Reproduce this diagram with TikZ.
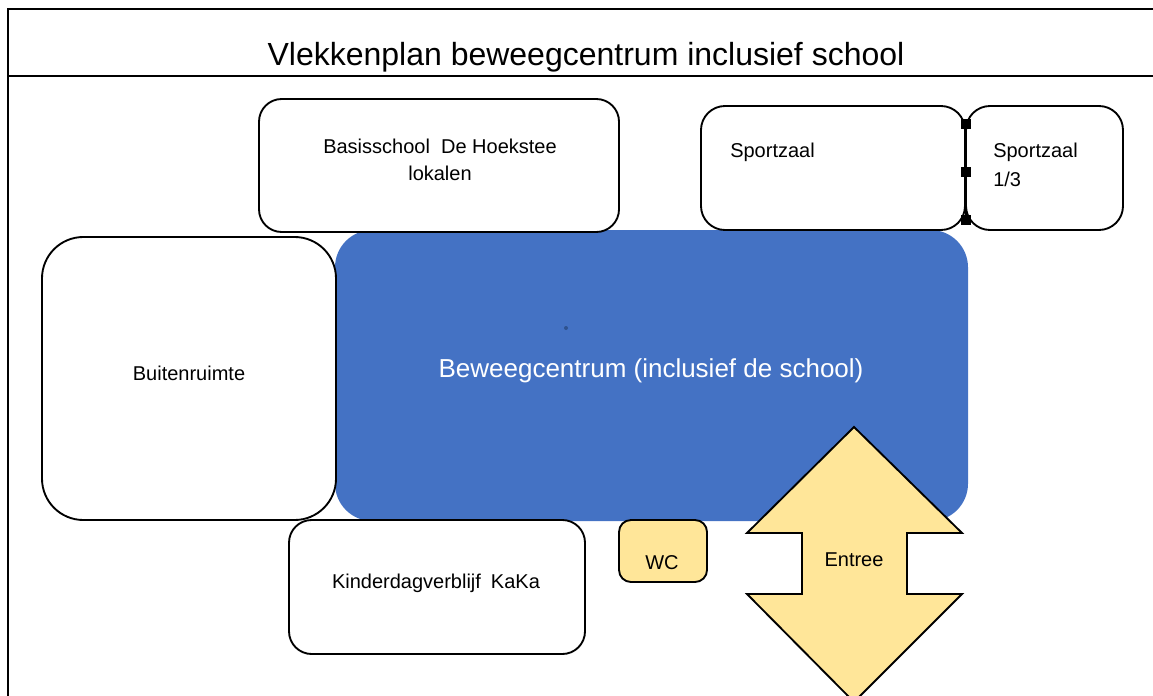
\documentclass[tikz,border=0pt]{standalone}
\usepackage{fontspec}
\setmainfont{Liberation Sans}
\usetikzlibrary{fit}
\definecolor{bluefill}{HTML}{4472C4}
\definecolor{yellowfill}{HTML}{FFE699}
\definecolor{dotblue}{HTML}{2F528F}
\begin{document}
\begin{tikzpicture}[x=0.75pt,y=-0.75pt,
  frame/.style={draw=black, line width=1.6pt},
  room/.style={draw=black, line width=1.4pt, fill=white, inner sep=0pt, outer sep=0pt},
  lbl/.style={font=\fontsize{15}{18}\selectfont, text=black, inner sep=0pt, anchor=base},
  lblleft/.style={lbl, anchor=base west},
  handle/.style={rectangle, fill=black, draw=none, minimum width=7pt, minimum height=7pt, inner sep=0pt}]
\useasboundingbox (0,0) rectangle (1153,696);
\clip (0,0) rectangle (1153,696);
% frame
\draw[frame] (8,700) -- (8,9) -- (1160,9);
\draw[frame] (8,76) -- (1160,76);
\node[font=\fontsize{24}{28}\selectfont, inner sep=0pt, anchor=base] (title) at (586,65) {Vlekkenplan beweegcentrum inclusief school};
% central block
\node[fill=bluefill, draw=none, rounded corners=28pt, inner sep=0pt, fit={(335,230) (968,521)}] (centrum) {};
\node[circle, fill=dotblue, inner sep=0pt, minimum size=3pt] (dot) at (566,328) {};
\node[font=\fontsize{19.5}{23}\selectfont, text=white, inner sep=0pt, anchor=base] (centrumtxt) at (651,377) {Beweegcentrum (inclusief de school)};
% rooms
\node[room, rounded corners=17pt, fit={(259,99) (619,232)}] (basis) {};
\node[lbl] (basistxt1) at (440,153) {Basisschool\ \ De Hoekstee};
\node[lbl] (basistxt2) at (440,180) {lokalen};
\node[room, rounded corners=31pt, fit={(42,237) (336,520)}] (buiten) {};
\node[lbl] (buitentxt) at (189,380) {Buitenruimte};
\node[room, rounded corners=17pt, fit={(289,520) (585,654)}] (kdv) {};
\node[lbl] (kdvtxt) at (436,588) {Kinderdagverblijf\hspace{0.5em}KaKa};
\node[room, rounded corners=18pt, fit={(701,106) (965,230)}] (sport) {};
\node[lblleft] (sporttxt) at (730,157) {Sportzaal};
\node[room, rounded corners=18pt, fit={(966,106) (1123,230)}] (sportb) {};
\node[lblleft] (sportbtxt1) at (993,157) {Sportzaal};
\node[lblleft] (sportbtxt2) at (993,186) {1/3};
% divider connector with handles
\coordinate (hA) at (966,124);
\coordinate (hB) at (966,172);
\coordinate (hC) at (966,220);
\draw[line width=1.4pt] (hA) -- (hC);
\node[handle] (handleA) at (hA) {};
\node[handle] (handleB) at (hB) {};
\node[handle] (handleC) at (hC) {};
% WC
\node[room, fill=yellowfill, rounded corners=9pt, fit={(619,520) (707,582)}] (wc) {};
\node[lbl] (wctxt) at (662,569) {WC};
% Entree double arrow
\draw[draw=black, line width=1.4pt, fill=yellowfill, line join=miter]
  (854,427) -- (962,533) -- (907,533) -- (907,594) -- (962,594) -- (854,702)
  -- (747,594) -- (802,594) -- (802,533) -- (747,533) -- cycle;
\node[lbl] (entreetxt) at (854,566) {Entree};
\end{tikzpicture}
\end{document}
